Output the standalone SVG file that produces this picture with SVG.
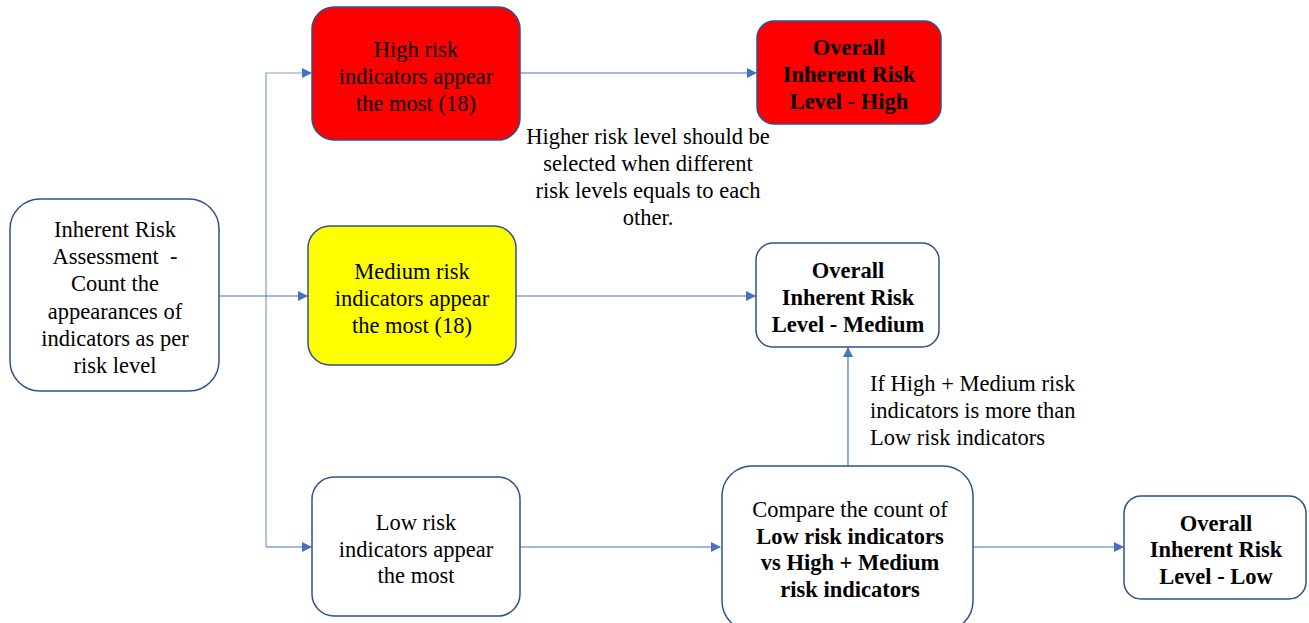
<svg xmlns="http://www.w3.org/2000/svg" width="1309" height="623" viewBox="0 0 1309 623">
<defs>
<style>
.n{stroke:#2F528F;stroke-width:1.5;}
.t{font-family:"Liberation Serif","Times New Roman",serif;font-size:22.5px;fill:#000;text-anchor:middle;}
.b{font-weight:bold;}
.l{text-anchor:start;}
.c{fill:none;stroke:#4472C4;stroke-width:1.2;}
</style>
<marker id="a" markerWidth="10" markerHeight="10" refX="9" refY="5" orient="auto" markerUnits="userSpaceOnUse">
<path d="M0,0 L10,5 L0,10 Z" fill="#4472C4"/>
</marker>
</defs>
<rect width="1309" height="623" fill="#fff"/>
<g id="connectors">
<path class="c" d="M219,296 H307" marker-end="url(#a)"/>
<path class="c" d="M266,547 V73 H311" marker-end="url(#a)" stroke-opacity="0.7"/>
<path class="c" d="M266,547 H311" marker-end="url(#a)"/>
<path class="c" d="M520,73 H756" marker-end="url(#a)"/>
<path class="c" d="M516,296 H755" marker-end="url(#a)"/>
<path class="c" d="M520,547 H720" marker-end="url(#a)"/>
<path class="c" d="M973,547 H1123" marker-end="url(#a)"/>
<path class="c" d="M848,466 V348" marker-end="url(#a)"/>
</g>
<g id="start">
<rect class="n" x="10" y="199" width="209" height="192" rx="30" fill="#fff"/>
<text class="t" x="115" y="237">Inherent Risk</text>
<text class="t" x="115" y="264" xml:space="preserve">Assessment  -</text>
<text class="t" x="115" y="291">Count the</text>
<text class="t" x="115" y="319">appearances of</text>
<text class="t" x="115" y="346">indicators as per</text>
<text class="t" x="115" y="373">risk level</text>
</g>
<g id="high">
<rect class="n" x="312" y="7" width="208" height="133" rx="22" fill="#FF0000"/>
<text class="t" x="416" y="57">High risk</text>
<text class="t" x="416" y="84">indicators appear</text>
<text class="t" x="416" y="111">the most (18)</text>
</g>
<g id="medium">
<rect class="n" x="308" y="226" width="208" height="139" rx="22" fill="#FFFF00"/>
<text class="t" x="412" y="279">Medium risk</text>
<text class="t" x="412" y="306">indicators appear</text>
<text class="t" x="412" y="333">the most (18)</text>
</g>
<g id="low">
<rect class="n" x="312" y="477" width="208" height="139" rx="22" fill="#fff"/>
<text class="t" x="416" y="530">Low risk</text>
<text class="t" x="416" y="557">indicators appear</text>
<text class="t" x="416" y="583">the most</text>
</g>
<g id="overall-high">
<rect class="n" x="757" y="21" width="184" height="103" rx="17" fill="#FF0000"/>
<text class="t b" x="849" y="55">Overall</text>
<text class="t b" x="849" y="82">Inherent Risk</text>
<text class="t b" x="849" y="109">Level - High</text>
</g>
<g id="overall-medium">
<rect class="n" x="756" y="243" width="183" height="104" rx="17" fill="#fff"/>
<text class="t b" x="848" y="278">Overall</text>
<text class="t b" x="848" y="305">Inherent Risk</text>
<text class="t b" x="848" y="332">Level - Medium</text>
</g>
<g id="compare">
<rect class="n" x="722" y="466" width="251" height="165" rx="30" fill="#fff"/>
<text class="t" x="850" y="517">Compare the count of</text>
<text class="t b" x="850" y="544">Low risk indicators</text>
<text class="t b" x="850" y="570">vs High + Medium</text>
<text class="t b" x="850" y="597">risk indicators</text>
</g>
<g id="overall-low">
<rect class="n" x="1124" y="496" width="182" height="103" rx="17" fill="#fff"/>
<text class="t b" x="1216" y="531">Overall</text>
<text class="t b" x="1216" y="557">Inherent Risk</text>
<text class="t b" x="1216" y="584">Level - Low</text>
</g>
<g id="note-higher">
<text class="t" x="648" y="144">Higher risk level should be</text>
<text class="t" x="648" y="171">selected when different</text>
<text class="t" x="648" y="198">risk levels equals to each</text>
<text class="t" x="648" y="225">other.</text>
</g>
<g id="note-compare">
<text class="t l" x="870" y="391">If High + Medium risk</text>
<text class="t l" x="870" y="418">indicators is more than</text>
<text class="t l" x="870" y="445">Low risk indicators</text>
</g>
</svg>
